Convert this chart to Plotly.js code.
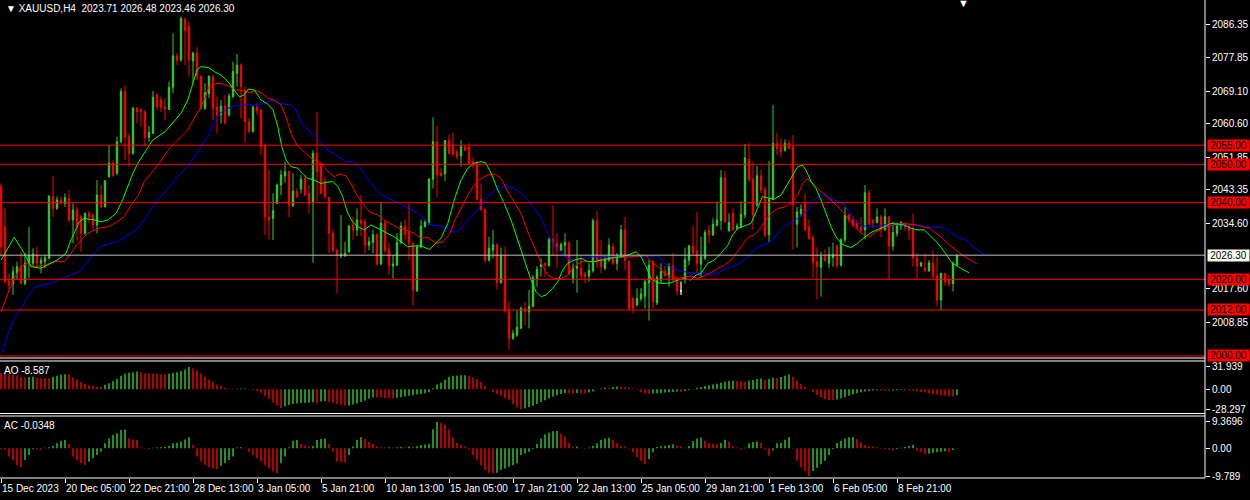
<!DOCTYPE html>
<html>
<head>
<meta charset="utf-8">
<script src="https://cdn.plot.ly/plotly-3.0.1.min.js"></script>
<style>
  html, body { margin: 0; padding: 0; background: #000; }
  #chart { width: 1250px; height: 500px; }
</style>
</head>
<body>
<div id="chart"></div>
<script>
// XAUUSD H4 candles (bar index 0 = 15 Dec 2023)
var opens = [
  2044.2, 2033.7, 2019.6, 2018.9, 2021.6, 2023.3, 2018.9, 2024.2, 2024.2, 2026.3,
  2024.2, 2024.6, 2025.5, 2041.6, 2038.5, 2040.7, 2039.8, 2041.0, 2035.5, 2038.1,
  2036.3, 2032.0, 2037.2, 2036.8, 2034.2, 2042.0, 2038.9, 2046.8, 2050.3, 2047.7,
  2055.9, 2069.0, 2057.2, 2052.9, 2064.6, 2064.2, 2063.7, 2057.0, 2058.1, 2068.1,
  2066.8, 2065.0, 2064.3, 2070.1, 2078.3, 2077.2, 2087.8, 2085.9, 2077.0, 2079.0,
  2072.9, 2064.6, 2068.5, 2072.9, 2065.0, 2062.9, 2065.2, 2062.9, 2067.7, 2073.7,
  2075.9, 2069.4, 2061.1, 2058.5, 2064.9, 2064.2, 2054.9, 2036.3, 2035.9, 2039.8,
  2044.6, 2047.0, 2048.1, 2039.2, 2043.0, 2043.5, 2046.3, 2042.4, 2040.0, 2052.9,
  2050.3, 2045.5, 2041.3, 2032.0, 2027.6, 2026.1, 2026.1, 2027.2, 2034.2, 2032.9,
  2035.5, 2035.0, 2028.9, 2029.6, 2031.7, 2024.0, 2034.8, 2027.8, 2023.5, 2023.7,
  2029.6, 2033.9, 2032.2, 2029.4, 2017.0, 2028.5, 2033.7, 2034.8, 2046.1, 2055.9,
  2047.7, 2047.5, 2056.2, 2054.9, 2053.3, 2052.2, 2054.6, 2054.6, 2050.7, 2050.5,
  2040.9, 2038.2, 2025.0, 2027.6, 2029.0, 2019.1, 2026.2, 2011.8, 2004.6, 2005.5,
  2007.2, 2012.4, 2011.5, 2012.9, 2020.2, 2023.3, 2024.2, 2023.5, 2030.4, 2029.4,
  2027.6, 2028.9, 2029.6, 2020.2, 2022.9, 2022.9, 2021.4, 2020.9, 2022.2, 2035.3,
  2025.0, 2022.9, 2025.0, 2028.5, 2024.2, 2025.9, 2032.9, 2024.6, 2015.0, 2013.3,
  2015.0, 2015.6, 2019.1, 2024.6, 2013.9, 2019.8, 2022.0, 2020.9, 2023.6, 2020.2,
  2017.0, 2020.2, 2025.0, 2028.7, 2027.4, 2024.0, 2025.5, 2032.7, 2031.6, 2034.2,
  2035.3, 2046.5, 2032.7, 2037.2, 2033.3, 2033.7, 2036.8, 2051.3, 2046.2, 2039.4,
  2047.0, 2043.5, 2031.6, 2040.9, 2055.5, 2054.6, 2053.7, 2055.5, 2054.6, 2034.4,
  2037.2, 2040.2, 2033.7, 2030.9, 2024.6, 2023.1, 2025.9, 2024.2, 2025.7, 2028.8,
  2023.7, 2030.3, 2036.8, 2035.6, 2034.6, 2033.5, 2032.9, 2042.6, 2035.5, 2034.8,
  2036.3, 2032.9, 2036.3, 2028.7, 2032.0, 2033.9, 2034.6, 2033.9, 2033.0, 2025.5,
  2023.5, 2022.9, 2022.2, 2024.3, 2020.9, 2014.6, 2021.6, 2020.0, 2018.9, 2023.71
];
var highs = [
  2045.0, 2038.5, 2021.6, 2023.3, 2024.6, 2027.2, 2026.8, 2033.7, 2028.1, 2028.5,
  2025.9, 2026.3, 2042.0, 2047.0, 2041.6, 2041.6, 2042.4, 2043.3, 2039.8, 2038.9,
  2036.8, 2037.4, 2037.9, 2037.2, 2045.9, 2044.6, 2045.9, 2055.0, 2051.1, 2057.2,
  2069.8, 2070.7, 2058.1, 2065.0, 2065.0, 2064.6, 2064.2, 2060.0, 2069.2, 2068.5,
  2067.7, 2067.2, 2071.6, 2084.2, 2079.0, 2088.5, 2088.4, 2087.2, 2079.4, 2080.7,
  2073.3, 2071.1, 2073.3, 2073.3, 2067.7, 2066.8, 2068.1, 2068.5, 2076.8, 2078.8,
  2076.3, 2070.3, 2062.0, 2065.2, 2065.9, 2064.3, 2055.5, 2048.7, 2042.4, 2045.0,
  2048.5, 2050.7, 2048.5, 2047.7, 2043.7, 2047.2, 2046.8, 2044.6, 2053.7, 2063.7,
  2050.4, 2046.8, 2041.6, 2033.0, 2028.1, 2036.8, 2029.8, 2034.2, 2036.3, 2038.5,
  2042.0, 2035.9, 2031.1, 2032.9, 2032.0, 2040.2, 2035.5, 2029.6, 2026.3, 2032.0,
  2035.0, 2035.6, 2039.8, 2029.8, 2029.0, 2035.5, 2035.6, 2046.3, 2062.2, 2060.0,
  2049.0, 2056.3, 2057.7, 2058.3, 2054.0, 2056.3, 2054.7, 2055.5, 2051.8, 2050.8,
  2045.0, 2038.5, 2031.1, 2032.9, 2029.4, 2028.3, 2028.5, 2014.2, 2006.8, 2012.0,
  2013.0, 2014.2, 2017.2, 2021.1, 2023.5, 2025.5, 2024.3, 2030.9, 2039.4, 2032.0,
  2029.6, 2032.0, 2029.8, 2024.2, 2030.3, 2026.3, 2022.0, 2024.2, 2035.9, 2037.9,
  2030.3, 2025.9, 2030.7, 2029.4, 2026.8, 2034.2, 2036.3, 2025.0, 2015.5, 2017.6,
  2017.7, 2019.8, 2025.0, 2025.0, 2021.1, 2024.2, 2023.5, 2024.2, 2026.8, 2020.9,
  2019.4, 2028.3, 2029.0, 2033.9, 2037.6, 2031.1, 2032.9, 2034.2, 2035.9, 2040.4,
  2048.5, 2048.3, 2037.2, 2038.5, 2034.6, 2040.4, 2055.3, 2055.7, 2050.7, 2049.6,
  2048.5, 2044.2, 2050.9, 2065.5, 2058.1, 2056.8, 2056.5, 2056.3, 2057.6, 2038.9,
  2039.6, 2042.4, 2035.6, 2031.6, 2028.3, 2027.2, 2027.8, 2028.5, 2029.6, 2029.0,
  2030.7, 2038.9, 2037.2, 2036.5, 2035.5, 2036.2, 2044.6, 2043.3, 2035.6, 2038.5,
  2036.8, 2038.5, 2036.5, 2035.0, 2034.8, 2035.3, 2034.8, 2034.6, 2037.2, 2026.8,
  2024.6, 2026.8, 2025.0, 2027.5, 2025.9, 2021.7, 2021.7, 2021.1, 2024.6, 2026.48
];
var lows = [
  2025.9, 2018.9, 2016.8, 2015.9, 2019.8, 2018.7, 2018.5, 2020.2, 2023.3, 2023.3,
  2021.6, 2022.9, 2025.2, 2036.3, 2038.1, 2039.4, 2038.9, 2035.0, 2029.4, 2030.3,
  2027.2, 2031.6, 2034.6, 2032.9, 2032.0, 2038.5, 2038.8, 2046.5, 2046.8, 2047.2,
  2055.5, 2051.1, 2049.4, 2052.4, 2060.7, 2059.8, 2054.6, 2055.9, 2057.9, 2064.2,
  2063.7, 2061.6, 2064.2, 2068.5, 2075.9, 2076.8, 2075.9, 2072.9, 2071.1, 2072.0,
  2064.2, 2064.2, 2067.2, 2061.6, 2058.1, 2060.7, 2060.6, 2062.4, 2067.2, 2070.3,
  2062.0, 2055.6, 2058.1, 2058.3, 2062.9, 2052.4, 2031.6, 2030.4, 2030.3, 2039.7,
  2042.0, 2045.2, 2036.2, 2038.9, 2041.1, 2042.4, 2041.6, 2037.2, 2024.3, 2040.3,
  2042.2, 2040.9, 2026.8, 2026.8, 2016.3, 2025.5, 2025.9, 2026.9, 2030.3, 2031.3,
  2031.3, 2026.8, 2027.6, 2026.8, 2023.5, 2023.7, 2026.8, 2021.1, 2020.2, 2023.5,
  2029.2, 2030.3, 2024.9, 2013.0, 2016.7, 2028.1, 2033.5, 2034.2, 2043.7, 2041.4,
  2046.8, 2045.7, 2052.6, 2052.0, 2051.3, 2049.4, 2053.6, 2049.8, 2048.9, 2040.7,
  2037.9, 2024.2, 2024.6, 2025.5, 2017.2, 2018.9, 2011.3, 2001.7, 2004.2, 2005.0,
  2007.1, 2008.1, 2007.2, 2012.7, 2018.1, 2020.7, 2020.7, 2023.4, 2026.1, 2023.1,
  2027.5, 2025.9, 2021.1, 2018.9, 2016.5, 2019.8, 2018.9, 2019.4, 2021.7, 2022.9,
  2021.6, 2022.4, 2024.6, 2023.7, 2022.4, 2025.5, 2022.4, 2012.0, 2011.1, 2012.9,
  2014.2, 2012.4, 2009.2, 2012.4, 2013.3, 2018.9, 2020.7, 2018.1, 2019.6, 2015.9,
  2015.9, 2018.9, 2023.7, 2026.3, 2021.6, 2020.5, 2025.0, 2029.4, 2031.3, 2033.7,
  2032.9, 2034.8, 2032.4, 2032.7, 2032.9, 2033.3, 2035.9, 2045.5, 2032.9, 2038.9,
  2042.4, 2030.9, 2029.8, 2040.7, 2052.4, 2051.8, 2053.3, 2053.9, 2027.8, 2028.3,
  2036.3, 2032.7, 2030.3, 2020.5, 2014.8, 2015.5, 2024.6, 2022.9, 2023.3, 2022.9,
  2023.3, 2029.6, 2034.8, 2033.6, 2032.9, 2032.0, 2030.4, 2034.2, 2033.3, 2034.6,
  2031.0, 2032.7, 2020.0, 2027.5, 2031.1, 2032.9, 2032.7, 2030.4, 2023.3, 2020.0,
  2023.3, 2022.0, 2022.0, 2020.2, 2013.0, 2012.0, 2018.3, 2018.1, 2016.8, 2023.46
];
var closes = [
  2028.5, 2019.4, 2018.5, 2022.0, 2023.3, 2018.9, 2024.2, 2026.3, 2026.6, 2024.2,
  2025.0, 2025.6, 2041.6, 2038.5, 2040.7, 2040.0, 2041.3, 2035.5, 2038.1, 2033.7,
  2032.0, 2037.2, 2036.3, 2034.2, 2042.0, 2038.9, 2045.7, 2050.3, 2047.2, 2055.9,
  2069.0, 2057.0, 2052.9, 2064.6, 2063.7, 2063.7, 2057.0, 2058.3, 2067.5, 2065.0,
  2064.9, 2064.5, 2070.1, 2078.3, 2077.2, 2088.1, 2085.0, 2077.2, 2079.0, 2072.9,
  2064.6, 2068.7, 2072.9, 2064.6, 2062.9, 2065.2, 2060.7, 2067.8, 2074.2, 2075.9,
  2070.3, 2061.1, 2058.5, 2064.9, 2064.0, 2054.6, 2036.3, 2035.5, 2037.9, 2044.6,
  2047.2, 2048.1, 2039.4, 2043.0, 2041.6, 2046.1, 2042.0, 2039.8, 2052.9, 2048.1,
  2042.4, 2041.6, 2032.0, 2027.5, 2026.3, 2026.6, 2026.8, 2033.9, 2032.9, 2035.5,
  2034.6, 2028.9, 2029.8, 2031.7, 2024.0, 2034.6, 2027.5, 2023.5, 2024.0, 2029.6,
  2033.9, 2031.6, 2029.4, 2017.2, 2028.5, 2033.9, 2035.0, 2046.2, 2055.9, 2047.2,
  2047.0, 2056.2, 2052.9, 2052.7, 2052.0, 2054.6, 2053.7, 2050.1, 2049.8, 2040.9,
  2038.2, 2025.0, 2028.1, 2029.0, 2019.1, 2026.2, 2011.8, 2004.6, 2005.9, 2007.5,
  2012.4, 2011.5, 2013.0, 2020.4, 2022.6, 2023.9, 2023.7, 2030.4, 2029.4, 2027.8,
  2029.1, 2029.6, 2021.4, 2022.9, 2023.3, 2021.1, 2020.7, 2022.4, 2035.3, 2024.6,
  2023.3, 2025.2, 2028.9, 2024.2, 2026.3, 2032.9, 2025.0, 2012.4, 2012.4, 2015.0,
  2016.2, 2019.4, 2023.7, 2014.2, 2020.5, 2022.0, 2021.0, 2023.6, 2019.8, 2017.0,
  2017.0, 2025.2, 2028.7, 2026.9, 2024.2, 2025.9, 2032.2, 2031.6, 2034.4, 2035.5,
  2046.5, 2035.0, 2034.8, 2032.9, 2033.9, 2037.0, 2051.7, 2045.9, 2036.8, 2047.0,
  2043.3, 2031.6, 2040.9, 2055.5, 2054.2, 2053.3, 2055.5, 2054.2, 2039.4, 2037.6,
  2038.3, 2032.9, 2030.7, 2024.3, 2023.3, 2025.9, 2024.9, 2026.5, 2026.5, 2023.7,
  2030.4, 2036.8, 2035.5, 2034.2, 2033.7, 2032.7, 2042.6, 2034.4, 2034.8, 2036.3,
  2032.9, 2036.3, 2028.7, 2032.2, 2034.2, 2034.8, 2033.7, 2032.7, 2025.5, 2023.5,
  2024.3, 2022.2, 2024.3, 2020.9, 2014.6, 2021.6, 2019.4, 2018.8, 2024.2, 2026.30
];

// Alligator lines, [bar position, price]
var lips = [
  [0,2025.0],[3.3,2031.0],[5.8,2026.8],[7.5,2023.3],[10,2022.9],[14,2025.0],[16.25,2026.8],[17.5,2030.3],
  [19.6,2035.0],[20.8,2035.9],[23.3,2035.5],[25,2035.0],[26.7,2035.5],[28.75,2037.2],[30.4,2040.7],[31.7,2044.2],
  [33,2047.7],[34.2,2050.3],[35.8,2052.9],[37.9,2056.3],[41,2058.5],[42.5,2060.3],[45,2063.3],[46.7,2066.8],
  [48,2071.1],[49,2074.6],[50,2075.5],[52,2075.2],[53.3,2074.2],[55,2073.3],[56.7,2071.6],[58.3,2069.4],
  [59.6,2067.6],[60.8,2068.1],[61.8,2069.6],[63.3,2069.4],[65,2066.8],[66.7,2065.7],[68,2064.2],[69.2,2059.8],
  [70.2,2054.6],[71.3,2051.1],[72.5,2049.4],[74.2,2049.0],[75.4,2047.5],[76.7,2046.3],[78.3,2045.9],[80,2045.0],
  [81.25,2045.3],[83,2045.5],[84.2,2044.2],[85.4,2041.6],[86.7,2037.2],[87.9,2035.0],[89.2,2033.7],[90.8,2032.9],
  [92.5,2034.2],[94.2,2033.3],[96.7,2032.0],[98.3,2031.1],[100,2029.8],[101.7,2028.5],[103.3,2028.7],[105,2028.7],
  [107.1,2027.8],[108.3,2028.9],[110,2030.7],[111.7,2034.6],[113.3,2040.7],[115,2045.9],[116.7,2049.0],[118.3,2050.3],
  [120,2050.7],[121.25,2050.3],[122.5,2047.7],[124.2,2043.3],[125.8,2039.8],[127.5,2035.5],[129.2,2030.3],[130.8,2025.0],
  [132.5,2019.8],[133.75,2016.8],[135,2015.5],[136.25,2015.9],[137.9,2017.6],[139.2,2019.4],[140.4,2022.4],[141.7,2024.2],
  [143.3,2025.0],[145,2025.5],[146.7,2024.6],[148.3,2024.6],[150,2025.0],[151.7,2025.5],[153.3,2025.7],[155,2025.9],
  [156.7,2026.3],[158.75,2027.2],[160,2025.9],[161.25,2023.3],[162.5,2020.2],[164.2,2019.1],[165.8,2018.9],[167.5,2019.1],
  [169.2,2019.8],[170.8,2020.2],[172.5,2019.8],[173.75,2021.1],[175,2021.6],[176.7,2024.2],[178.3,2025.0],[180,2026.8],
  [181.7,2028.9],[182.9,2031.6],[184.2,2033.3],[185.8,2033.9],[187.5,2034.6],[188.75,2037.6],[190.4,2041.6],[192.1,2041.1],
  [193.3,2040.9],[195,2042.0],[196.7,2045.0],[197.9,2046.8],[199.2,2049.4],[200.4,2049.8],[201.25,2048.5],[202.5,2045.5],
  [203.75,2043.7],[205,2040.7],[206.25,2037.2],[207.5,2033.7],[208.75,2031.1],[210,2029.4],[211.25,2028.7],[212.5,2028.3],
  [214.2,2029.4],[215.8,2030.9],[217.5,2032.2],[219.2,2032.9],[220.8,2033.7],[222.5,2034.6],[224.2,2034.4],[225.8,2034.2],
  [227.5,2033.3],[229.2,2032.9],[230.8,2032.9],[232.5,2031.1],[234.2,2029.4],[235.8,2027.2],[237.5,2024.6],[239.2,2023.3],
  [241.25,2022.0],[242,2021.7]
];
var teeth = [
  [0,2011.5],[1.7,2016.3],[3.3,2020.2],[5,2023.3],[6.7,2024.2],[8.3,2023.3],[10.8,2023.7],[13.3,2024.6],
  [15.8,2024.6],[17.5,2026.8],[19.2,2029.4],[21.7,2032.0],[24.2,2033.3],[26.7,2033.7],[28.75,2034.8],[30.8,2036.3],
  [32.5,2039.4],[34.2,2041.6],[35.8,2045.5],[37.9,2048.1],[39.6,2050.3],[41.25,2052.9],[43.3,2055.5],[45,2057.2],
  [46.7,2059.0],[48.3,2062.0],[49.6,2064.2],[50.8,2066.8],[52,2070.3],[53.75,2071.1],[55.4,2071.0],[57.1,2070.3],
  [58.75,2069.4],[60.4,2069.2],[62.1,2068.7],[63.75,2069.2],[65.4,2068.5],[66.7,2067.2],[68.3,2066.8],[70,2065.5],
  [71.25,2062.4],[72.5,2058.1],[74.2,2054.6],[75.8,2053.3],[77.5,2051.6],[79.2,2050.7],[80.8,2049.4],[81.7,2048.1],
  [83.3,2046.8],[84.6,2047.5],[86.25,2047.0],[87.5,2045.0],[88.75,2042.4],[90.4,2039.8],[92.1,2037.6],[94.2,2036.8],
  [95.8,2035.5],[97.9,2034.2],[99.6,2033.3],[101.25,2032.9],[103.3,2032.0],[105,2030.7],[106.7,2030.9],[108.75,2029.4],
  [110.4,2029.8],[112.1,2031.6],[113.3,2035.0],[115,2038.5],[116.7,2042.0],[118.3,2044.6],[120,2046.3],[121.7,2047.2],
  [123.3,2047.5],[125,2046.3],[126.7,2042.9],[128.3,2040.2],[130,2037.2],[131.7,2032.4],[133.3,2028.5],[135,2024.2],
  [136.7,2021.1],[138.3,2020.2],[140,2020.2],[141.7,2021.1],[143.3,2023.3],[145,2024.6],[148.3,2024.6],[150,2025.2],
  [153.3,2025.6],[156.7,2025.9],[160,2026.1],[161.25,2026.2],[162.5,2024.6],[164.2,2023.3],[165.8,2021.6],[167.5,2020.7],
  [169.2,2020.2],[170.8,2020.5],[172.5,2020.9],[174.2,2020.2],[175.8,2020.9],[177.5,2021.7],[179.2,2022.9],[180.8,2023.7],
  [182.5,2025.0],[183.75,2026.8],[185,2028.7],[186.7,2030.9],[188.3,2031.6],[189.6,2032.9],[190.8,2035.0],[192.5,2037.2],
  [194.2,2038.5],[195.8,2038.8],[197.5,2039.8],[199.2,2042.0],[200.4,2045.0],[201.5,2046.2],[202.5,2045.5],[205,2042.9],
  [207.5,2040.7],[210,2038.1],[212.5,2035.0],[215,2032.0],[217.1,2031.1],[218.75,2032.4],[220.4,2033.3],[222.1,2033.9],
  [223.75,2034.4],[225.4,2034.6],[227.1,2034.4],[228.75,2034.2],[230.4,2033.7],[232.1,2033.3],[233.75,2032.0],[235.4,2030.7],
  [237.1,2028.9],[238.75,2027.5],[240.4,2026.3],[241.25,2025.7],[243,2024.6],[244,2024.0]
];
var jaw = [
  [0,2000.2],[1.7,2005.5],[3.3,2009.8],[5,2012.4],[6.7,2015.5],[8.3,2017.9],[10,2018.5],[12.5,2018.9],
  [15,2020.2],[17.5,2021.1],[19.6,2022.0],[21.25,2024.2],[22.9,2026.3],[25,2028.5],[26.7,2029.2],[29.2,2029.8],
  [31.7,2031.6],[33.75,2032.9],[35.8,2035.5],[37.9,2038.9],[40,2041.6],[41.7,2043.7],[43.3,2045.9],[45,2047.7],
  [46.7,2049.4],[48.3,2052.0],[50,2054.6],[51.7,2057.2],[53.3,2061.1],[55,2063.5],[56.7,2064.6],[58.3,2065.2],
  [60.4,2065.7],[62.5,2065.4],[64.6,2065.5],[66.25,2066.1],[67.5,2066.8],[69.2,2066.3],[70.8,2065.7],[72.5,2065.5],
  [73.75,2064.2],[75,2061.1],[76.7,2059.0],[78.3,2057.6],[80,2055.5],[81.7,2053.7],[83.75,2052.4],[86.25,2050.7],
  [87.9,2050.7],[89.6,2049.4],[91.25,2046.8],[92.5,2045.0],[94.6,2042.4],[96.7,2041.1],[99.2,2040.0],[101.7,2038.5],
  [104.2,2037.2],[105.8,2035.5],[107.5,2034.2],[110,2033.9],[112.1,2032.9],[113.75,2032.2],[115,2033.3],[116.7,2035.5],
  [118.3,2037.2],[120,2039.4],[121.7,2041.6],[123.3,2043.1],[125,2044.0],[126.7,2044.3],[128.3,2043.7],[130,2042.4],
  [131.7,2040.7],[133.3,2038.5],[135,2035.9],[136.7,2032.0],[138.3,2029.0],[140,2026.8],[141.7,2025.5],[143.3,2025.0],
  [145,2025.5],[148.3,2025.9],[151.7,2026.1],[155,2026.1],[158.3,2025.9],[161.7,2026.1],[164.2,2026.1],[165.8,2024.2],
  [167.5,2023.3],[169.2,2022.3],[170.8,2022.0],[172.5,2021.7],[175.8,2021.7],[177.5,2021.1],[179.2,2021.6],[180.8,2022.6],
  [182.5,2023.3],[184.2,2024.0],[185.8,2025.0],[187.5,2026.8],[189.2,2028.5],[190.8,2029.0],[192.5,2029.8],[194.2,2032.0],
  [195.8,2033.7],[197.5,2034.8],[199.2,2035.9],[201.7,2038.1],[203.3,2040.7],[205,2042.0],[206.7,2041.6],[208.3,2040.7],
  [210,2040.3],[211.7,2038.1],[213.3,2035.5],[215,2034.2],[216.7,2033.7],[218.3,2033.7],[220.4,2034.2],[225,2034.2],
  [227.5,2034.3],[229.6,2034.2],[231.25,2033.6],[235,2033.6],[236.7,2032.9],[238.3,2031.6],[240,2030.7],[241.25,2030.3],
  [243,2028.5],[246,2026.3]
];

// Awesome Oscillator and Accelerator/Decelerator, one value per bar
var ao = [
  23.5, 22.5, 21.6, 21.1, 20.2, 17.8, 16.9, 17.4, 17.8, 16.9,
  16.4, 16.0, 15.6, 17.8, 19.2, 20.7, 21.6, 20.7, 16.9, 14.1,
  10.3, 7.5, 5.6, 4.7, 3.8, 3.3, 6.6, 8.5, 11.3, 14.6,
  19.2, 22.5, 23.5, 24.4, 25.4, 24.4, 22.5, 22.4, 22.3, 22.1,
  21.6, 21.1, 22.1, 23.5, 24.4, 26.3, 28.2, 31.939, 29.6, 27.2,
  22.5, 17.8, 14.1, 10.8, 7.0, 4.7, 1.9, 0.9, 0.7, 0.9,
  1.0, 1.1, -0.3, -1.5, -2.5, -5.0, -9.5, -14.0, -18.8, -23.0,
  -26.8, -24.4, -22.5, -21.1, -20.2, -19.7, -19.5, -19.2, -18.8, -19.7,
  -17.4, -16.9, -17.8, -19.2, -21.1, -22.5, -23.5, -23.0, -21.6, -20.2,
  -18.3, -16.0, -13.6, -11.7, -11.9, -12.2, -12.5, -12.7, -13.0, -12.2,
  -11.3, -10.3, -9.4, -8.5, -7.5, -6.6, -5.6, -4.2, 1.4, 7.0,
  9.4, 13.6, 17.4, 19.2, 19.7, 20.0, 20.2, 19.2, 16.9, 14.6,
  10.3, 4.7, 0.5, -4.2, -6.6, -9.4, -12.7, -15.0, -21.0, -25.5,
  -28.297, -27.0, -25.8, -23.5, -21.0, -18.3, -15.5, -13.0, -10.8, -8.5,
  -6.6, -5.5, -5.8, -6.0, -5.2, -5.6, -5.9, -4.7, -3.3, 0.5,
  1.2, 2.3, 2.0, 3.3, 4.0, 3.5, 3.0, 2.3, 1.0, -1.0,
  -4.2, -6.1, -6.8, -6.1, -5.6, -5.2, -4.7, -4.2, -3.8, -3.3,
  -3.5, -2.3, -1.4, 0.3, 2.3, 3.3, 4.7, 5.6, 7.0, 8.0,
  9.4, 10.8, 11.7, 12.7, 11.7, 11.3, 10.8, 12.2, 13.1, 14.6,
  15.5, 13.6, 14.6, 16.4, 16.0, 17.4, 19.2, 21.1, 17.8, 12.7,
  7.5, 3.3, 0.5, -4.2, -8.0, -11.7, -14.1, -15.5, -15.7, -14.6,
  -12.7, -11.3, -9.4, -7.5, -5.6, -4.2, -3.3, -2.3, -1.9, -1.4,
  -1.6, -1.9, -2.2, -1.9, -1.4, -1.0, -1.2, -1.6, -2.0, -2.8,
  -3.8, -4.7, -5.6, -6.6, -7.5, -8.5, -9.4, -9.9, -10.1, -8.587
];
var ac = [
  -0.3, -0.5, -2.9, -4.1, -5.9, -6.7, -4.1, -2.4, -0.3, -0.4,
  -0.6, 0.2, 0.4, 0.9, 1.8, 2.7, 2.9, 1.5, -2.9, -4.1,
  -5.3, -5.9, -4.7, -3.5, -2.4, -1.2, 1.8, 3.5, 4.7, 5.3,
  6.5, 6.6, 3.5, 3.1, 2.9, 0.4, -0.2, -0.4, 0.2, 0.3,
  0.35, 0.5, 0.8, 1.8, 2.0, 2.4, 3.1, 3.9, 1.2, -2.9,
  -4.7, -5.9, -6.7, -7.1, -7.4, -6.2, -5.3, -4.1, -2.9, 0.3,
  0.35, 0.2, -1.2, -2.4, -3.5, -4.7, -5.9, -7.1, -8.2, -8.8,
  -5.3, -2.9, 0.4, 2.7, 2.9, 1.5, 1.1, 0.6, 0.8, 2.9,
  3.3, 3.5, 1.5, -1.2, -4.7, -4.9, -5.0, -2.4, 0.6, 2.9,
  3.9, 3.3, 2.2, 1.5, 0.6, 0.4, 0.3, 0.4, 0.3, 0.4,
  0.5, 0.4, 0.6, 0.5, 0.7, 1.2, 1.3, 1.5, 6.7, 9.3696,
  9.0, 8.2, 6.7, 3.9, 2.0, 1.2, 0.6, -0.6, -2.4, -4.1,
  -5.9, -7.6, -8.6, -8.8, -8.6, -7.6, -7.1, -6.5, -6.0, -5.3,
  -2.4, -1.8, -1.2, -0.3, 1.5, 3.5, 4.9, 5.6, 6.0, 6.1,
  5.2, 4.1, 2.0, 0.5, 0.6, 0.2, -0.2, 0.3, 0.9, 1.8,
  2.9, 3.5, 3.7, 2.9, 1.8, 0.8, 0.6, -0.2, -1.4, -3.2,
  -4.4, -5.6, -3.8, -1.4, 0.5, 0.7, 0.9, 1.2, 1.4, 0.9,
  0.6, 0.2, 0.8, 2.5, 3.5, 3.8, 2.7, 1.9, 1.6, 1.4,
  1.9, 3.0, 2.4, 0.7, 0.3, -0.5, 0.2, 1.8, 2.2, 2.4,
  2.0, -0.4, -2.6, -0.8, 1.8, 2.0, 3.0, 3.9, -0.2, -4.4,
  -6.7, -8.0, -9.789, -8.0, -6.9, -5.6, -4.4, -2.4, -0.3, 1.9,
  2.7, 3.5, 3.9, 3.95, 3.3, 2.1, 1.2, 0.7, 0.6, 0.3,
  -0.2, -0.3, -0.5, -0.8, -0.3, 0.2, 0.5, 0.8, 1.2, -0.8,
  -1.2, -2.1, -1.9, -1.6, -1.4, -1.2, -1.0, -1.2, -0.6, -0.0348
];

// horizontal levels drawn on the chart
var levels = [2055, 2050, 2040, 2020, 2012, 2000];

// price scale labels, oscillator scale labels
var priceTicks = [2086.35, 2077.85, 2069.10, 2060.60, 2051.85, 2043.35, 2034.60, 2017.60, 2008.85];
var aoTicks = [31.939, 0, -28.297];
var aoTickText = ['31.939', '0.00', '-28.297'];
var acTicks = [9.3696, 0, -9.789];
var acTickText = ['9.3696', '0.00', '-9.789'];

// time scale
var timeTickBars = [0, 16, 32, 48, 64, 80, 96, 112, 128, 144, 160, 176, 192, 208, 224];
var timeTickText = ['15 Dec 2023', '20 Dec 05:00', '22 Dec 21:00', '28 Dec 13:00', '3 Jan 05:00',
  '5 Jan 21:00', '10 Jan 13:00', '15 Jan 05:00', '17 Jan 21:00', '22 Jan 13:00',
  '25 Jan 05:00', '29 Jan 21:00', '1 Feb 13:00', '6 Feb 05:00', '8 Feb 21:00'];

var UP = '#32cd32', DOWN = '#ff0000', FG = '#ffffff';
var FONT = 'Liberation Sans, Arial, sans-serif';
var N = opens.length;
var last = N - 1;
var bars = opens.map(function (_, i) { return i; });

// sub window layout (paper fractions of the 478px tall plot area)
var mainDom = [0.2510, 1];
var aoDom = [0.1349, 0.2448];
var acDom = [0, 0.1297];

function histColors(v) {
  return v.map(function (val, i) { return (i > 0 && val > v[i - 1]) ? UP : DOWN; });
}

var dojiIdx = bars.filter(function (i) { return opens[i] === closes[i]; });

var traces = [
  {
    type: 'candlestick', x: bars, open: opens, high: highs, low: lows, close: closes,
    increasing: { line: { color: UP, width: 1 }, fillcolor: UP },
    decreasing: { line: { color: DOWN, width: 1 }, fillcolor: DOWN },
    whiskerwidth: 0, xaxis: 'x', yaxis: 'y', showlegend: false
  },
  {
    type: 'candlestick',
    x: dojiIdx,
    open: dojiIdx.map(function (i) { return opens[i]; }),
    high: dojiIdx.map(function (i) { return highs[i]; }),
    low: dojiIdx.map(function (i) { return lows[i]; }),
    close: dojiIdx.map(function (i) { return closes[i]; }),
    increasing: { line: { color: FG, width: 1 }, fillcolor: FG },
    decreasing: { line: { color: FG, width: 1 }, fillcolor: FG },
    whiskerwidth: 0, xaxis: 'x', yaxis: 'y', showlegend: false
  }
];

[[jaw, '#0000ff'], [teeth, '#ff0000'], [lips, '#00ff00']].forEach(function (s) {
  traces.push({
    type: 'scatter', mode: 'lines', xaxis: 'x', yaxis: 'y', showlegend: false,
    x: s[0].map(function (p) { return p[0]; }),
    y: s[0].map(function (p) { return p[1]; }),
    line: { color: s[1], width: 1 }
  });
});

traces.push({
  type: 'bar', x: bars, y: ao, width: 0.35, xaxis: 'x', yaxis: 'y2', showlegend: false,
  marker: { color: histColors(ao), line: { width: 0 } }
});
traces.push({
  type: 'bar', x: bars, y: ac, width: 0.35, xaxis: 'x', yaxis: 'y3', showlegend: false,
  marker: { color: histColors(ac), line: { width: 0 } }
});

var shapes = [];
levels.forEach(function (lv) {
  shapes.push({ type: 'line', xref: 'paper', x0: 0, x1: 1, yref: 'y', y0: lv, y1: lv,
    line: { color: '#ff0000', width: 1 } });
});
shapes.push({ type: 'line', xref: 'paper', x0: 0, x1: 1, yref: 'y', y0: closes[last], y1: closes[last],
  line: { color: '#c0c0c0', width: 1 } });
// window frames
[mainDom[0], aoDom[1], aoDom[0], acDom[1], 0].forEach(function (yy) {
  shapes.push({ type: 'line', xref: 'paper', x0: 0, x1: 1, yref: 'paper', y0: yy, y1: yy,
    line: { color: FG, width: 1 } });
});
shapes.push({ type: 'line', xref: 'paper', x0: 1, x1: 1, yref: 'paper', y0: 0, y1: 1,
  line: { color: FG, width: 1 } });

var annotations = [];
annotations.push({
  xref: 'paper', yref: 'paper', x: 0, y: 1, xanchor: 'left', yanchor: 'top', xshift: 4, yshift: -1,
  showarrow: false, font: { family: FONT, size: 10, color: FG },
  text: '\u25BC XAUUSD,H4  ' + opens[last].toFixed(2) + ' ' + highs[last].toFixed(2) + ' ' +
        lows[last].toFixed(2) + ' ' + closes[last].toFixed(2)
});
annotations.push({
  xref: 'paper', yref: 'paper', x: 0, y: aoDom[1], xanchor: 'left', yanchor: 'top', xshift: 2, yshift: -2,
  showarrow: false, font: { family: FONT, size: 10, color: FG }, text: 'AO ' + ao[last].toFixed(3)
});
annotations.push({
  xref: 'paper', yref: 'paper', x: 0, y: acDom[1], xanchor: 'left', yanchor: 'top', xshift: 2, yshift: -2,
  showarrow: false, font: { family: FONT, size: 10, color: FG }, text: 'AC ' + ac[last].toFixed(4)
});
levels.forEach(function (lv) {
  annotations.push({
    xref: 'paper', yref: 'y', x: 1, y: lv, xanchor: 'left', yanchor: 'middle', xshift: 2,
    showarrow: false, text: lv.toFixed(2), bgcolor: '#ff0000', borderpad: 0, width: 41, height: 11,
    font: { family: FONT, size: 10, color: '#000000' }
  });
});
annotations.push({
  xref: 'paper', yref: 'y', x: 1, y: closes[last], xanchor: 'left', yanchor: 'middle', xshift: 2,
  showarrow: false, text: closes[last].toFixed(2), bgcolor: '#fffff0', borderpad: 0, width: 41, height: 11,
  font: { family: FONT, size: 10, color: '#000000' }
});
timeTickBars.forEach(function (b, i) {
  annotations.push({
    xref: 'x', yref: 'paper', x: b, y: 0, xanchor: 'left', yanchor: 'top', yshift: -3, xshift: -1,
    showarrow: false, text: timeTickText[i], font: { family: FONT, size: 10, color: FG }
  });
});
// chart shift marker
annotations.push({
  xref: 'x', yref: 'paper', x: N + 0.5, y: 1, xanchor: 'center', yanchor: 'top', yshift: 5,
  showarrow: false, text: '\u25BC', font: { family: FONT, size: 11, color: FG }
});

var axisFont = { family: FONT, size: 10, color: FG };
var layout = {
  width: 1250, height: 500,
  margin: { l: 0, r: 45, t: 0, b: 22, pad: 0 },
  paper_bgcolor: '#000000', plot_bgcolor: '#000000',
  showlegend: false, hovermode: false, boxgap: 0.5,
  xaxis: {
    range: [-0.25, 301], anchor: 'y3', rangeslider: { visible: false },
    tickvals: timeTickBars, showticklabels: false, ticks: 'outside', ticklen: 4, tickcolor: FG,
    showgrid: false, zeroline: false, showline: false, fixedrange: true
  },
  yaxis: {
    domain: mainDom, range: [1999.47, 2092.87], side: 'right', anchor: 'x',
    tickvals: priceTicks, ticktext: priceTicks.map(function (v) { return v.toFixed(2); }),
    ticks: 'outside', ticklen: 4, tickcolor: FG, tickfont: axisFont,
    showgrid: false, zeroline: false, showline: false
  },
  yaxis2: {
    domain: aoDom, range: [-34.6, 40.4], side: 'right', anchor: 'x',
    tickvals: aoTicks, ticktext: aoTickText, ticks: 'outside', ticklen: 4, tickcolor: FG,
    tickfont: axisFont, showgrid: false, zeroline: false, showline: false
  },
  yaxis3: {
    domain: acDom, range: [-10.49, 11.41], side: 'right', anchor: 'x',
    tickvals: acTicks, ticktext: acTickText, ticks: 'outside', ticklen: 4, tickcolor: FG,
    tickfont: axisFont, showgrid: false, zeroline: false, showline: false
  },
  shapes: shapes,
  annotations: annotations
};

Plotly.newPlot('chart', traces, layout, { displayModeBar: false, staticPlot: true });
</script>
</body>
</html>
